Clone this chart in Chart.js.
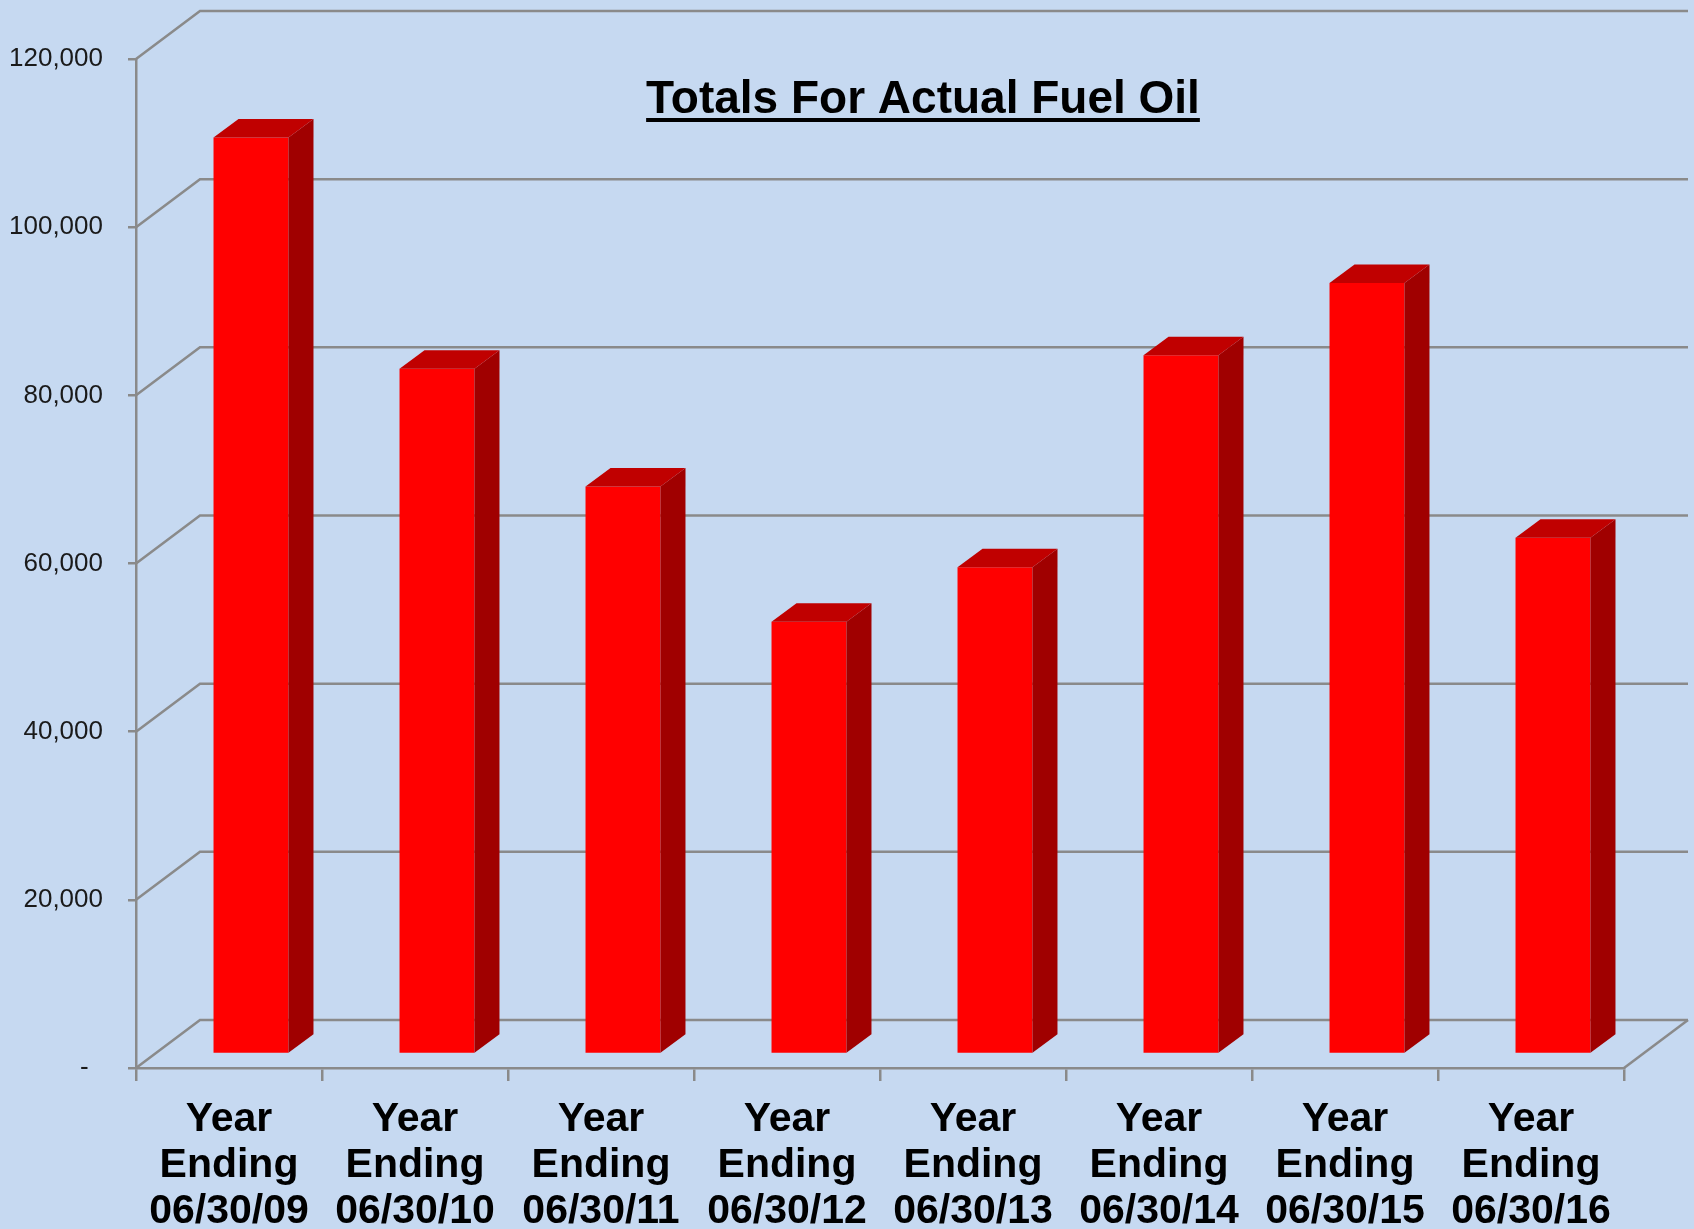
<!DOCTYPE html>
<html>
<head>
<meta charset="utf-8">
<title>Totals For Actual Fuel Oil</title>
<script src="https://cdn.jsdelivr.net/npm/chart.js@4/dist/chart.umd.min.js"></script>
<style>
  html, body { margin: 0; padding: 0; background: #c6d9f1; }
  #wrap { width: 1694px; height: 1229px; position: relative; }
</style>
</head>
<body>
<div id="wrap"><canvas id="fuelChart"></canvas></div>
<script>
// ===== DATA =====
const categories = [
  ["Year", "Ending", "06/30/09"],
  ["Year", "Ending", "06/30/10"],
  ["Year", "Ending", "06/30/11"],
  ["Year", "Ending", "06/30/12"],
  ["Year", "Ending", "06/30/13"],
  ["Year", "Ending", "06/30/14"],
  ["Year", "Ending", "06/30/15"],
  ["Year", "Ending", "06/30/16"]
];
const fuelOilTotals = [109000, 81500, 67500, 51400, 57900, 83100, 91700, 61400];
const yTickMin = 0;
const yTickMax = 120000;
const yTickStep = 20000;
const chartTitle = "Totals For Actual Fuel Oil";

// ===== LOOK =====
const BG = "#c6d9f1";
const GRID = "#8a8a8a";
const FRONT = "#ff0000";
const TOP = "#c00000";
const SIDE = "#a00000";
const WALL_DX = 64, WALL_DY = -48;   // depth of the back wall
const BAR_DX = 22, BAR_DY = -14;     // bars sit a bit behind the front plane
const FACE_DX = 25, FACE_DY = -18.5; // bar depth

// back wall, floor and 3d faces of the bars
const depthPlugin = {
  id: "depth",
  beforeDraw(chart) {
    const ctx = chart.ctx;
    ctx.save();
    ctx.fillStyle = BG;
    ctx.fillRect(0, 0, chart.width, chart.height);
    ctx.restore();
  },
  beforeDatasetsDraw(chart) {
    const ctx = chart.ctx;
    const area = chart.chartArea;
    const yScale = chart.scales.y;
    ctx.save();
    ctx.strokeStyle = GRID;
    ctx.lineWidth = 2.5;
    yScale.ticks.forEach((t) => {
      const y = yScale.getPixelForValue(t.value);
      ctx.beginPath();
      ctx.moveTo(area.left, y);
      ctx.lineTo(area.left + WALL_DX, y + WALL_DY);
      ctx.lineTo(area.right + WALL_DX, y + WALL_DY);
      ctx.stroke();
    });
    // right edge of the floor
    ctx.beginPath();
    ctx.moveTo(area.right, area.bottom);
    ctx.lineTo(area.right + WALL_DX, area.bottom + WALL_DY);
    ctx.stroke();
    ctx.restore();

    ctx.save();
    ctx.translate(BAR_DX, BAR_DY);
  },
  afterDatasetsDraw(chart) {
    const ctx = chart.ctx;
    const meta = chart.getDatasetMeta(0);
    meta.data.forEach((bar) => {
      const p = bar.getProps(["x", "y", "base", "width"], true);
      const xl = p.x - p.width / 2;
      const xr = p.x + p.width / 2;
      // side
      ctx.fillStyle = SIDE;
      ctx.beginPath();
      ctx.moveTo(xr, p.y);
      ctx.lineTo(xr + FACE_DX, p.y + FACE_DY);
      ctx.lineTo(xr + FACE_DX, p.base + FACE_DY);
      ctx.lineTo(xr, p.base);
      ctx.closePath();
      ctx.fill();
      // top
      ctx.fillStyle = TOP;
      ctx.beginPath();
      ctx.moveTo(xl, p.y);
      ctx.lineTo(xl + FACE_DX, p.y + FACE_DY);
      ctx.lineTo(xr + FACE_DX, p.y + FACE_DY);
      ctx.lineTo(xr, p.y);
      ctx.closePath();
      ctx.fill();
    });
    ctx.restore();
  },
  afterDraw(chart) {
    // underlined title inside the plot
    const ctx = chart.ctx;
    ctx.save();
    ctx.font = "bold 46px 'Liberation Sans', Arial, sans-serif";
    ctx.fillStyle = "#000";
    ctx.textAlign = "center";
    ctx.textBaseline = "alphabetic";
    const cx = 923, by = 113;
    ctx.fillText(chartTitle, cx, by);
    const w = ctx.measureText(chartTitle).width;
    ctx.fillRect(cx - w / 2, by + 5, w, 4);
    ctx.restore();
  }
};

const ctx = document.getElementById("fuelChart").getContext("2d");
new Chart(ctx, {
  type: "bar",
  data: {
    labels: categories,
    datasets: [
      {
        label: chartTitle,
        data: fuelOilTotals,
        backgroundColor: FRONT,
        borderWidth: 0,
        categoryPercentage: 1.0,
        barPercentage: 0.403,
        clip: false
      }
    ]
  },
  options: {
    responsive: true,
    maintainAspectRatio: false,
    devicePixelRatio: 1,
    animation: false,
    layout: { padding: { top: 59, right: 70, left: 0, bottom: 0 } },
    plugins: {
      legend: { display: false },
      tooltip: { enabled: false },
      title: { display: false }
    },
    scales: {
      x: {
        afterFit: (scale) => { scale.height = 161; },
        border: { display: true, color: GRID, width: 2.5 },
        grid: {
          offset: true,
          drawOnChartArea: false,
          drawTicks: true,
          tickLength: 13,
          color: GRID,
          lineWidth: 2.5
        },
        ticks: {
          color: "#000",
          padding: 16,
          maxRotation: 0,
          autoSkip: false,
          font: { family: "'Liberation Sans', Arial, sans-serif", size: 41, weight: "bold", lineHeight: "46px" }
        }
      },
      y: {
        min: yTickMin,
        max: yTickMax,
        afterFit: (scale) => { scale.width = 136; },
        border: { display: true, color: GRID, width: 2.5 },
        grid: {
          drawOnChartArea: false,
          drawTicks: true,
          tickLength: 8,
          color: GRID,
          lineWidth: 2.5
        },
        ticks: {
          stepSize: yTickStep,
          padding: 25,
          color: "#1a1a1a",
          font: { family: "'Liberation Sans', Arial, sans-serif", size: 26 },
          callback: (v) => (v === 0 ? "-  " : v.toLocaleString("en-US"))
        }
      }
    }
  },
  plugins: [depthPlugin]
});
</script>
</body>
</html>
